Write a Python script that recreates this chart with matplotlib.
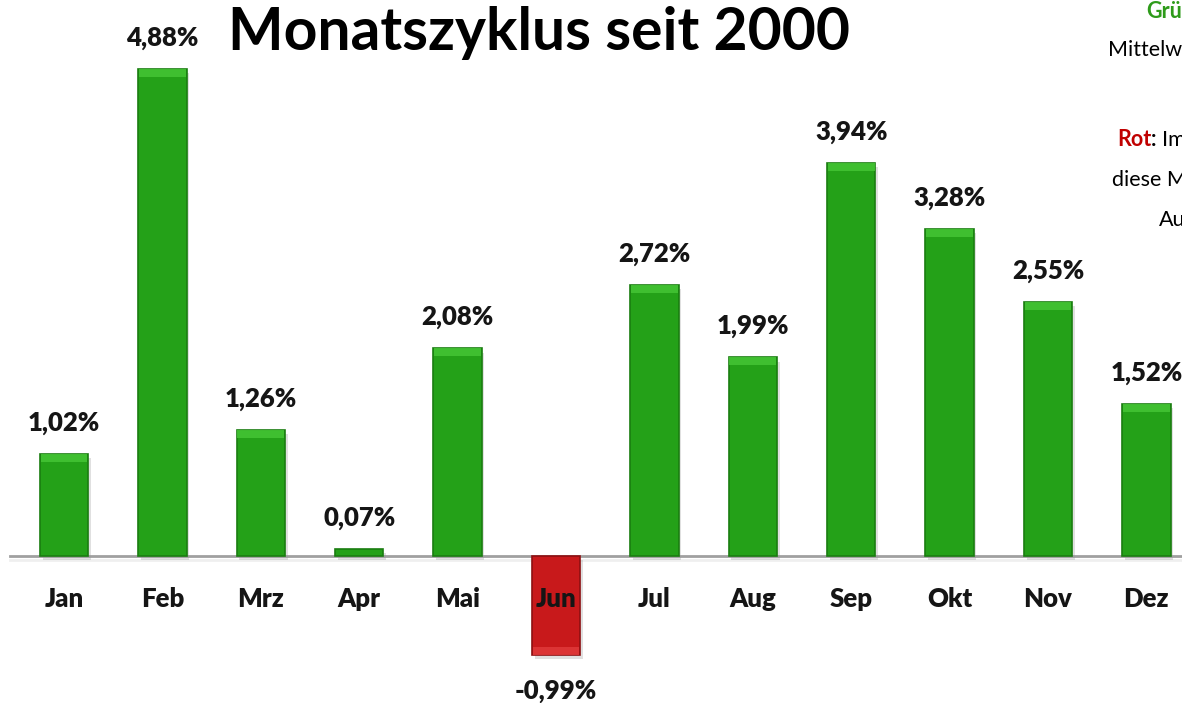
import matplotlib
matplotlib.use("Agg")
import matplotlib.pyplot as plt
import matplotlib.patheffects as pe
import numpy as np

months = ["Jan", "Feb", "Mrz", "Apr", "Mai", "Jun", "Jul", "Aug", "Sep", "Okt", "Nov", "Dez"]
values = [1.02, 4.88, 1.26, 0.07, 2.08, -0.99, 2.72, 1.99, 3.94, 3.28, 2.55, 1.52]
labels = ["1,02%", "4,88%", "1,26%", "0,07%", "2,08%", "-0,99%", "2,72%", "1,99%", "3,94%", "3,28%", "2,55%", "1,52%"]
title = "Monatszyklus seit 2000"

W, H = 1182, 703
fig = plt.figure(figsize=(W / 100, H / 100), dpi=100)
ax = fig.add_axes([0, 0, 1, 1])

spacing = 98.4
x0 = 64
ppu = 99.8
base = 556
ax.set_xlim(-x0 / spacing, (W - x0) / spacing)
ax.set_ylim(-(H - base) / ppu, base / ppu)
ax.axis("off")

FONT = "Lato"
x = np.arange(len(months))
bw = 0.49

green = "#24A118"
green_edge = "#1A7D10"
red = "#C8191B"
red_edge = "#8E1012"
cols = [red if v < 0 else green for v in values]
ecols = [red_edge if v < 0 else green_edge for v in values]

# axis line
ax.plot([-x0 / spacing + 10 / spacing, (W - x0) / spacing], [0, 0], color="#A0A0A0", lw=2, zorder=1,
        path_effects=[pe.SimpleLineShadow(offset=(0, -3), shadow_color="#E0E0E0", alpha=0.5), pe.Normal()])

bars = ax.bar(x, values, width=bw, color=cols, edgecolor=ecols, linewidth=1.2, zorder=3)
for b in bars:
    b.set_path_effects([pe.SimplePatchShadow(offset=(2, -3), shadow_rgbFace="#999999", alpha=0.3), pe.Normal()])

# top bevel highlight (lighter strip on the far end of each bar)
bevel_units = 8 / ppu
for xi, v in zip(x, values):
    if abs(v) > 2 * bevel_units:
        sgn = 1 if v > 0 else -1
        light = "#45C535" if v > 0 else "#E03A3A"
        ax.bar(xi, sgn * bevel_units, bottom=v - sgn * bevel_units, width=bw * 0.97,
               color=light, linewidth=0, zorder=4, alpha=0.85)

LS = 18.5
# value labels
for xi, v, lab in zip(x, values, labels):
    if v >= 0:
        ax.text(xi, v + 31 / ppu, lab, ha="center", va="center", fontsize=LS,
                fontweight="heavy", family=FONT, color="#151515", zorder=5)
    else:
        ax.text(xi, v - 36 / ppu, lab, ha="center", va="center", fontsize=LS,
                fontweight="heavy", family=FONT, color="#151515", zorder=5)

# month labels
for xi, m in zip(x, months):
    ax.text(xi, -43 / ppu, m, ha="center", va="center", fontsize=LS,
            fontweight="heavy", family=FONT, color="#151515", zorder=6)

# title
fig.text(539 / W, 1 - 33 / H, title, ha="center", va="center", fontsize=42.3,
         fontweight="bold", family=FONT, color="black")

# clipped legend text at right edge
renderer = fig.canvas.get_renderer()

def ftxt(px, py, parts):
    cur = px
    for s, kw in parts:
        t = fig.text(cur / W, 1 - py / H, s, ha="left", va="center", fontsize=15.5, family=FONT, **kw)
        bb = t.get_window_extent(renderer=renderer)
        cur = bb.x1

ftxt(1146, 12, [("Grün", dict(color="#2E9B1A", fontweight="bold")), (": Im", dict(color="black"))])
ftxt(1108, 50, [("Mittelwert positiv", dict(color="black"))])
ftxt(1117, 140, [("Rot", dict(color="#C00000", fontweight="bold")), (": ", dict(color="black", fontweight="bold")),
                 ("Im Mittelwert", dict(color="black"))])
ftxt(1112, 180, [("diese Monate mit", dict(color="black"))])
ftxt(1159, 220, [("Aus", dict(color="black"))])

fig.savefig("out.png", dpi=100)
